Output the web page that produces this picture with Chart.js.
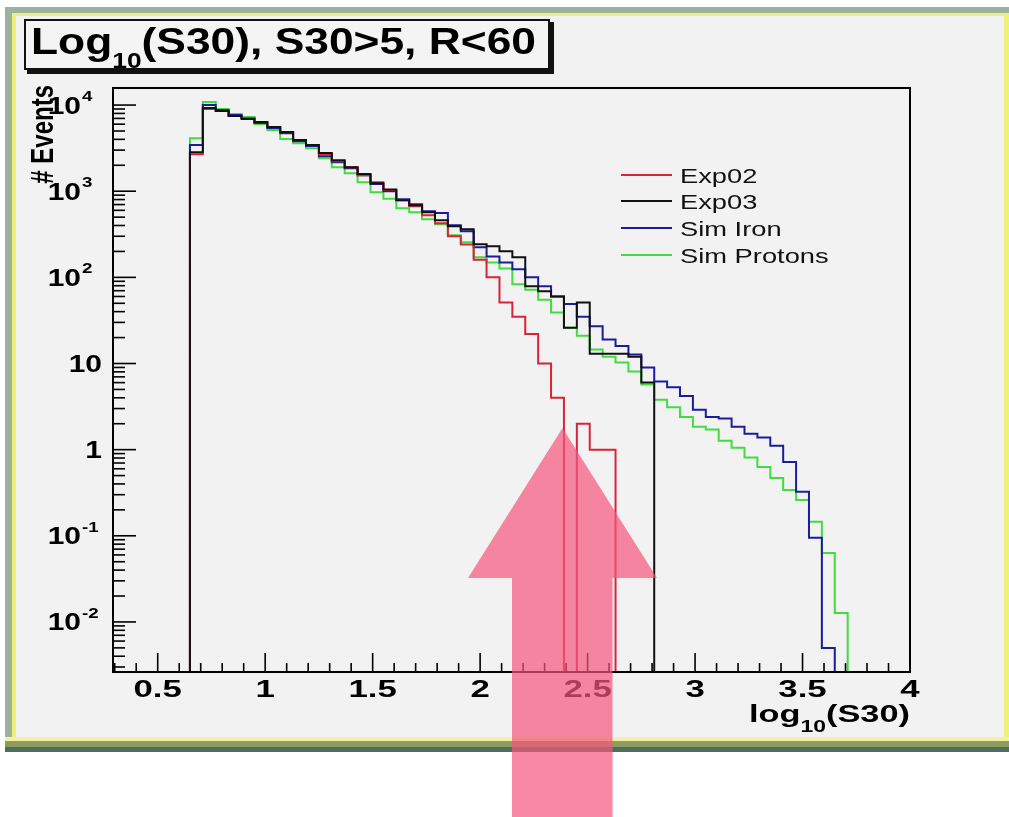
<!DOCTYPE html>
<html>
<head>
<meta charset="utf-8">
<script src="https://cdn.jsdelivr.net/npm/chart.js@4.4.1/dist/chart.umd.min.js"></script>
<style>
  html, body { margin: 0; padding: 0; background: #ffffff; }
  canvas { display: block; }
</style>
</head>
<body>
<canvas id="s30Chart" width="1009" height="817" style="width:1009px;height:817px"></canvas>
<script>
// bin edges of the log10(S30) histograms (51 bins, width 0.06)
let binEdges = [
  0.65, 0.71, 0.77, 0.83, 0.89, 0.95, 1.01, 1.07, 1.13, 1.19,
  1.25, 1.31, 1.37, 1.43, 1.49, 1.55, 1.61, 1.67, 1.73, 1.79,
  1.85, 1.91, 1.97, 2.03, 2.09, 2.15, 2.21, 2.27, 2.33, 2.39,
  2.45, 2.51, 2.57, 2.63, 2.69, 2.75, 2.81, 2.87, 2.93, 2.99,
  3.05, 3.11, 3.17, 3.23, 3.29, 3.35, 3.41, 3.47, 3.53, 3.59,
  3.65, 3.71,
];

let exp02 = [
  2690, 8980, 8510, 7450, 7060, 6340, 5550, 4860, 3920, 3430,
  2690, 2230, 1900, 1530, 1270, 1030, 786, 670, 526, 425,
  300, 240, 160, 100, 51, 35, 22, 10, 4, 0,
  2, 1, 1,
];

let exp03 = [
  2840, 9230, 8510, 7450, 6870, 6340, 5550, 4860, 3920, 3430,
  2770, 2290, 1900, 1580, 1240, 1050, 786, 687, 570, 460,
  392, 361, 242, 229, 201, 171, 79, 69, 60, 26,
  51, 13, 13, 13, 12, 6,
];

let simIron = [
  3430, 10000, 8750, 7650, 7060, 6180, 5400, 4720, 3810, 3340,
  2550, 2170, 1850, 1530, 1210, 1000, 807, 706, 585, 560,
  403, 343, 223, 175, 149, 124, 100, 79, 60, 49,
  35, 27, 19, 16, 12.7, 9, 6.2, 5.3, 4.2, 2.9,
  2.4, 2.3, 1.85, 1.53, 1.38, 1.11, 0.72, 0.325, 0.095, 0.005,
];

let simProtons = [
  4130, 10840, 8980, 7860, 7250, 6010, 5120, 4030, 3610, 3160,
  2420, 1900, 1620, 1270, 973, 820, 634, 570, 472, 413,
  308, 255, 171, 149, 127, 83, 72, 55, 39, 26,
  21, 14.5, 12, 10.3, 8.1, 5.7, 3.8, 3.1, 2.4, 1.85,
  1.71, 1.27, 1.05, 0.81, 0.63, 0.47, 0.34, 0.26, 0.146, 0.063,
  0.0127,
];

let seriesNames = ['Exp02', 'Exp03', 'Sim Iron', 'Sim Protons'];
let seriesColors = ['#d8243a', '#111111', '#1c1c9c', '#40dc40'];

let xTickValues = [0.5, 1, 1.5, 2, 2.5, 3, 3.5, 4];
let xTickLabels = ['0.5', '1', '1.5', '2', '2.5', '3', '3.5', '4'];
let yTickValues = [0.01, 0.1, 1, 10, 100, 1000, 10000];
let yTickBases = ['10', '10', '1', '10', '10', '10', '10'];
let yTickExps = ['-2', '-1', '', '', '2', '3', '4'];

let fontFamily = '"Liberation Sans", Arial, Helvetica, sans-serif';
let emptyBin = 1e-6; // below the axis, gets clipped like ROOT does

let histSteps = (counts) => {
  let pts = [{ x: binEdges[0], y: emptyBin }];
  counts.forEach((c, i) => pts.push({ x: binEdges[i], y: c > 0 ? c : emptyBin }));
  let n = counts.length;
  pts.push({ x: binEdges[n], y: counts[n - 1] });
  pts.push({ x: binEdges[n], y: emptyBin });
  return pts;
};

let richWidth = (ctx, parts, weight) => {
  return parts.reduce((sum, [t, size]) => {
    ctx.font = `${weight} ${size}px ${fontFamily}`;
    return sum + ctx.measureText(t).width;
  }, 0);
};

// draws text pieces (with sub/superscripts) stretched sideways by sx
let drawRich = (ctx, parts, x, y, sx, align, weight = 'bold') => {
  let total = richWidth(ctx, parts, weight) * sx;
  let cx = align === 'right' ? x - total : align === 'center' ? x - total / 2 : x;
  parts.forEach(([t, size, dy]) => {
    ctx.font = `${weight} ${size}px ${fontFamily}`;
    let w = ctx.measureText(t).width;
    ctx.save();
    ctx.translate(cx, y + dy);
    ctx.scale(sx, 1);
    ctx.textAlign = 'left';
    ctx.textBaseline = 'alphabetic';
    ctx.fillText(t, 0, 0);
    ctx.restore();
    cx += w * sx;
  });
};

let line = (ctx, x1, y1, x2, y2) => {
  ctx.beginPath();
  ctx.moveTo(x1, y1);
  ctx.lineTo(x2, y2);
  ctx.stroke();
};

let rootStyle = {
  id: 'rootStyle',
  beforeDraw: (chart) => {
    let ctx = chart.ctx;
    ctx.save();
    ctx.fillStyle = '#ffffff';
    ctx.fillRect(0, 0, 1009, 817);
    // canvas pad with its bevelled border
    ctx.fillStyle = '#9ab29f';
    ctx.fillRect(5, 7, 1004, 745);
    ctx.fillStyle = '#eef07c';
    ctx.fillRect(12, 13, 997, 728);
    ctx.fillStyle = '#f2f2f2';
    ctx.fillRect(16, 16, 988, 721);
    ctx.fillStyle = '#f4f0a8';
    ctx.fillRect(5, 737, 1004, 4);
    ctx.fillStyle = '#8d9c5f';
    ctx.fillRect(5, 741, 1004, 6);
    ctx.fillStyle = '#4d6e5e';
    ctx.fillRect(5, 747, 1004, 5);

    // title box
    ctx.fillStyle = '#111111';
    ctx.fillRect(27, 22, 527, 52);
    ctx.fillStyle = '#f4f4f4';
    ctx.fillRect(24, 19, 526, 51);
    ctx.strokeStyle = '#111111';
    ctx.lineWidth = 2;
    ctx.strokeRect(25, 20, 524, 49);
    ctx.fillStyle = '#000000';
    let titleParts = [['Log', 37, 0], ['10', 22, 14], ['(S30), S30>5, R<60', 37, 0]];
    let titleSx = 505 / richWidth(ctx, titleParts, 'bold');
    drawRich(ctx, titleParts, 31, 54, titleSx, 'left');
    ctx.restore();
  },
  afterDraw: (chart) => {
    let ctx = chart.ctx;
    let area = chart.chartArea;
    let xs = chart.scales.x;
    let ys = chart.scales.y;
    ctx.save();
    ctx.strokeStyle = '#000000';
    ctx.fillStyle = '#000000';

    // frame
    ctx.lineWidth = 2;
    ctx.strokeRect(area.left, area.top, area.right - area.left, area.bottom - area.top);

    // ticks point into the frame
    ctx.lineWidth = 1.6;
    for (let i = 3; i <= 40; i++) {
      let px = xs.getPixelForValue(i / 10);
      line(ctx, px, area.bottom, px, area.bottom - (i % 5 === 0 ? 19 : 9));
    }
    for (let e = -3; e <= 4; e++) {
      for (let m = 1; m <= 9; m++) {
        let v = m * Math.pow(10, e);
        if (v < ys.min || v > ys.max) continue;
        let py = ys.getPixelForValue(v);
        line(ctx, area.left, py, area.left + (m === 1 ? 23 : 12), py);
      }
    }

    // tick labels
    xTickValues.forEach((v, i) => {
      drawRich(ctx, [[xTickLabels[i], 24, 0]], xs.getPixelForValue(v), 697, 1.45, 'center');
    });
    yTickValues.forEach((v, i) => {
      let py = ys.getPixelForValue(v);
      if (yTickExps[i]) {
        drawRich(ctx, [[yTickBases[i], 24, 0]], 81, py + 8.5, 1.25, 'right');
        drawRich(ctx, [[yTickExps[i], 15, 0]], 82, py - 4, 1.25, 'left');
      } else {
        drawRich(ctx, [[yTickBases[i], 24, 0]], 102, py + 8.5, 1.25, 'right');
      }
    });

    // axis titles
    let xTitle = [['log', 24, 0], ['10', 16, 10], ['(S30)', 24, 0]];
    drawRich(ctx, xTitle, 910, 722, 161 / richWidth(ctx, xTitle, 'bold'), 'right');

    ctx.save();
    ctx.translate(53, 85);
    ctx.scale(1.3, 1);
    ctx.rotate(-Math.PI / 2);
    ctx.font = `bold 24px ${fontFamily}`;
    ctx.textAlign = 'right';
    ctx.textBaseline = 'alphabetic';
    ctx.fillText('# Events', 0, 0);
    ctx.restore();

    // legend
    let legendY = [175, 201, 228, 255];
    seriesNames.forEach((name, i) => {
      ctx.strokeStyle = seriesColors[i];
      ctx.lineWidth = 2;
      line(ctx, 621, legendY[i], 672, legendY[i]);
      ctx.fillStyle = '#111111';
      drawRich(ctx, [[name, 21, 0]], 680, legendY[i] + 7.5, 1.3, 'left', 'normal');
    });

    // pink arrow overlay
    ctx.fillStyle = 'rgba(245, 85, 125, 0.7)';
    ctx.beginPath();
    ctx.moveTo(562.5, 428);
    ctx.lineTo(657, 578);
    ctx.lineTo(612.5, 578);
    ctx.lineTo(612.5, 817);
    ctx.lineTo(512, 817);
    ctx.lineTo(512, 578);
    ctx.lineTo(468, 578);
    ctx.closePath();
    ctx.fill();
    ctx.restore();
  },
};

let makeDataset = (label, counts, color, order) => {
  return {
    label: label,
    data: histSteps(counts),
    borderColor: color,
    backgroundColor: color,
    borderWidth: 2,
    stepped: 'before',
    fill: false,
    pointRadius: 0,
    borderCapStyle: 'butt',
    borderJoinStyle: 'miter',
    order: order,
  };
};

let ctx = document.getElementById('s30Chart').getContext('2d');

// lower order is drawn on top: Exp03 over Exp02 over the simulations
new Chart(ctx, {
  type: 'line',
  data: {
    datasets: [
      makeDataset(seriesNames[0], exp02, seriesColors[0], 2),
      makeDataset(seriesNames[1], exp03, seriesColors[1], 1),
      makeDataset(seriesNames[2], simIron, seriesColors[2], 3),
      makeDataset(seriesNames[3], simProtons, seriesColors[3], 4),
    ],
  },
  options: {
    responsive: false,
    animation: false,
    devicePixelRatio: 1,
    layout: { padding: { left: 113, right: 99, top: 88, bottom: 145 } },
    plugins: {
      legend: { display: false },
      tooltip: { enabled: false },
      title: { display: false },
    },
    scales: {
      x: { type: 'linear', min: 0.292, max: 4.0, display: false },
      y: { type: 'logarithmic', min: 0.002624, max: 15780, display: false },
    },
  },
  plugins: [rootStyle],
});
</script>
</body>
</html>
